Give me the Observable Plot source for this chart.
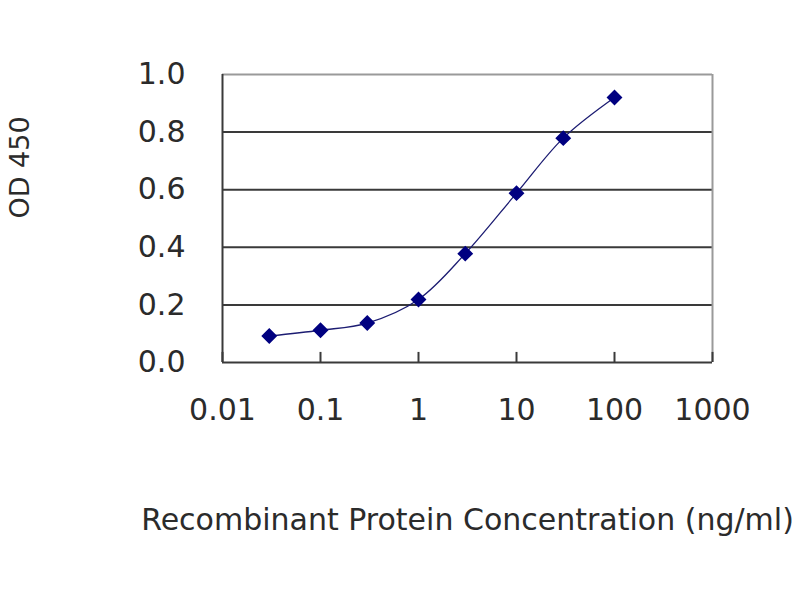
<!DOCTYPE html>
<html>
<head>
<meta charset="utf-8">
<script src="https://cdn.jsdelivr.net/npm/d3@7"></script>
<script src="https://cdn.jsdelivr.net/npm/@observablehq/plot@0.6"></script>
<style>
  html, body { margin: 0; padding: 0; background: #fff; }
  #chart { width: 800px; height: 600px; }
</style>
</head>
<body>
<div id="chart"></div>
<script>
// Data
const concentrations = [0.03, 0.1, 0.3, 1, 3, 10, 30, 100];
const od450 = [0.092, 0.112, 0.137, 0.219, 0.378, 0.588, 0.779, 0.92];
const xTicks = [0.01, 0.1, 1, 10, 100, 1000];
const xTickLabels = ["0.01", "0.1", "1", "10", "100", "1000"];
const yTicks = [0, 0.2, 0.4, 0.6, 0.8, 1.0];
const yTickLabels = ["0.0", "0.2", "0.4", "0.6", "0.8", "1.0"];
const innerGrid = [0.2, 0.4, 0.6, 0.8];
const xTitle = "Recombinant Protein Concentration (ng/ml)";
const yTitle = "OD 450";

const data = concentrations.map((c, i) => ({c, od: od450[i]}));
const xTickData = xTicks.map((v, i) => ({v, label: xTickLabels[i]}));
const font = "DejaVu Sans";
const textColor = "#2b2b2b";
const navy = "#000080";

const chart = Plot.plot({
  width: 800,
  height: 600,
  marginLeft: 222,
  marginRight: 88,
  marginTop: 74,
  marginBottom: 238,
  style: {fontFamily: font, background: "#fff", color: textColor},
  x: {type: "log", domain: [0.01, 1000], axis: null},
  y: {domain: [0, 1], axis: null},
  marks: [
    // gridlines
    Plot.ruleY(innerGrid, {stroke: "#3a3a3a", strokeWidth: 2}),
    // plot area border (top and right, grey)
    Plot.ruleY([1], {stroke: "#9a9a9a", strokeWidth: 2}),
    Plot.ruleX([1000], {stroke: "#9a9a9a", strokeWidth: 2}),
    // axis lines
    Plot.ruleY([0], {stroke: "#3a3a3a", strokeWidth: 2}),
    Plot.ruleX([0.01], {stroke: "#3a3a3a", strokeWidth: 2}),
    // inward x tick marks
    Plot.ruleX(xTicks, {y1: 0, y2: 0.035, stroke: "#3a3a3a", strokeWidth: 2}),
    // x tick labels
    Plot.text(xTickData, {
      x: "v", text: "label", frameAnchor: "bottom", dy: 48,
      fontSize: 30, fill: textColor, lineAnchor: "middle"
    }),
    Plot.axisY(yTicks, {
      tickSize: 0, tickPadding: 37, fontSize: 30, fill: textColor,
      tickFormat: (d) => yTickLabels[yTicks.indexOf(d)], label: null
    }),
    // data
    Plot.line(data, {x: "c", y: "od", curve: "catmull-rom", stroke: "#1c1c72", strokeWidth: 1.3}),
    Plot.dot(data, {x: "c", y: "od", symbol: "square", rotate: 45, r: 5.5, fill: navy, stroke: navy}),
    // titles
    Plot.text([xTitle], {frameAnchor: "bottom", dy: 158, fontSize: 30, fill: textColor, lineAnchor: "middle"}),
    Plot.text([yTitle], {frameAnchor: "left", dx: -202, rotate: -90, fontSize: 27, fill: textColor, lineAnchor: "middle"})
  ]
});
document.getElementById("chart").appendChild(chart);
</script>
</body>
</html>
